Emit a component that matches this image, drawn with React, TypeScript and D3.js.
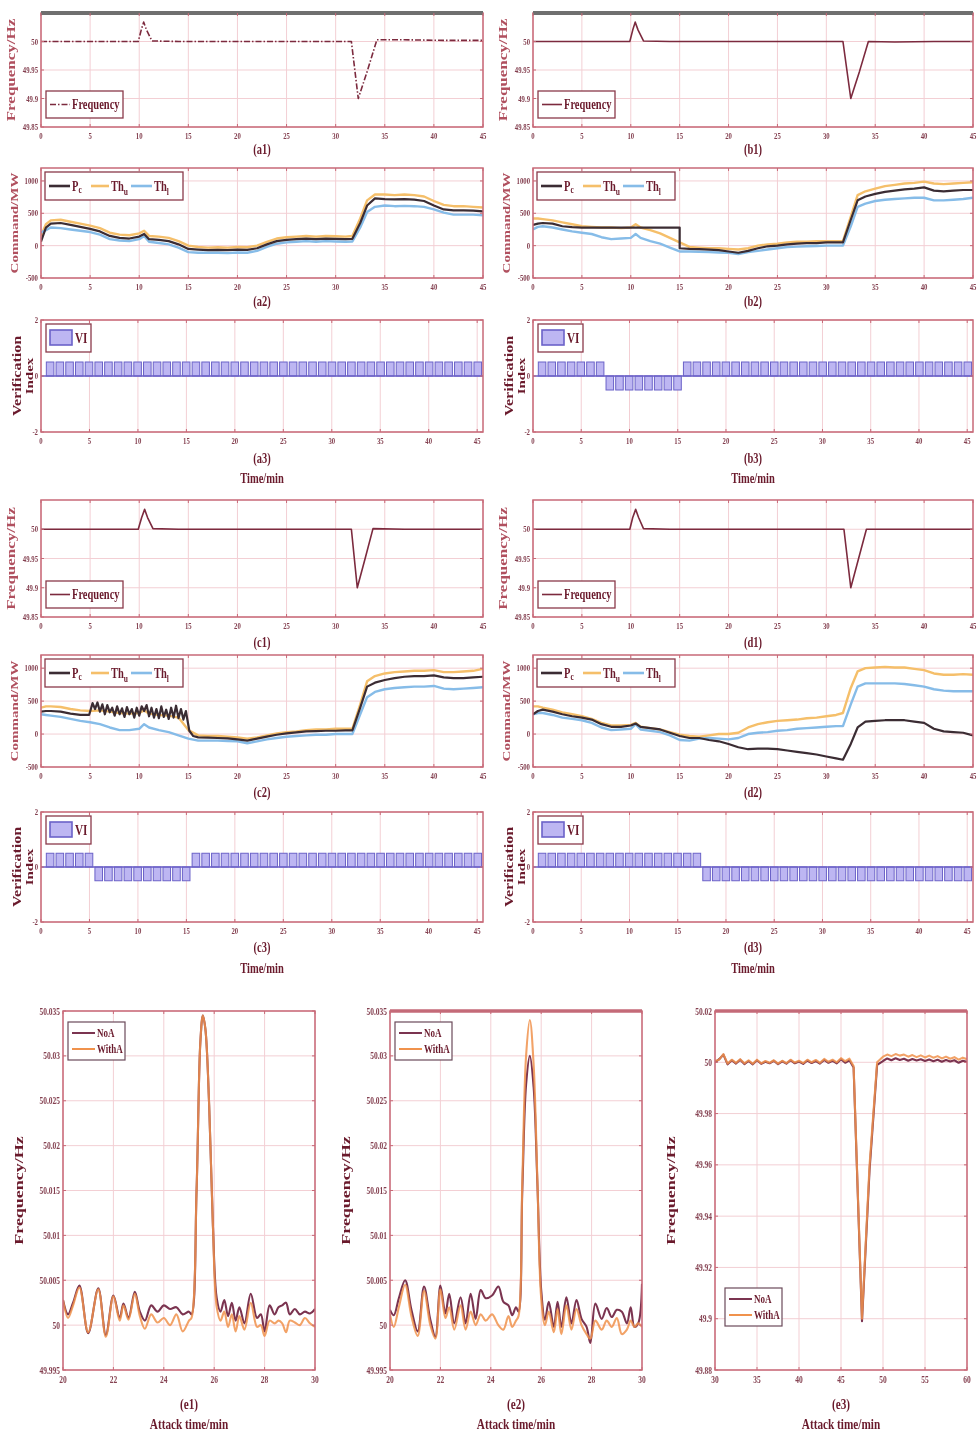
import React from "react";
import * as d3 from "d3";

const W = 979;
const H = 1437;

const INK = "#6a1a2c";
const SOFT_INK = "#b0505f";
const TICK_INK = "#844050";
const FRAME = "#c76a78";
const GRID = "#f3cfd4";
const FREQ_COL = "#7c2a3e";
const PC_COL = "#3b2c33";
const THU_COL = "#f5bf6a";
const THL_COL = "#86bce8";
const VI_FILL = "#bdb6f2";
const VI_EDGE = "#6b62c8";
const NOA_COL = "#7b3450";
const WITHA_COL = "#f0924c";
const FONT = "'Liberation Serif', 'DejaVu Serif', serif";
const SQ = 0.75; // the figure is squeezed horizontally

// ---------- ticks ----------
const MIN_TICKS = [0, 5, 10, 15, 20, 25, 30, 35, 40, 45];
const FREQ_TICKS = [49.85, 49.9, 49.95, 50];
const CMD_TICKS = [-500, 0, 500, 1000];
const VI_TICKS = [-2, 0, 2];
const E12_XTICKS = [20, 22, 24, 26, 28, 30];
const E12_YTICKS = [49.995, 50, 50.005, 50.01, 50.015, 50.02, 50.025, 50.03, 50.035];
const E3_XTICKS = [30, 35, 40, 45, 50, 55, 60];
const E3_YTICKS = [49.88, 49.9, 49.92, 49.94, 49.96, 49.98, 50, 50.02];

// ---------- frequency (a1, b1, c1, d1) ----------
const FREQ_A_T = [0, 4, 8, 9.9, 10.2, 10.45, 10.75, 11.3, 14, 18, 22, 26, 30, 31.6, 32.3, 33.2, 34.2, 37, 41, 45];
const FREQ_A = [50, 50, 50, 50, 50.02, 50.034, 50.02, 50.001, 50, 50, 50, 50, 50, 50, 49.9, 49.947, 50.003, 50.003, 50.002, 50.002];
const FREQ_B_T = [0, 4, 8, 9.9, 10.2, 10.45, 10.75, 11.3, 14, 18, 22, 26, 30, 31.7, 32.5, 33.4, 34.3, 37, 41, 45];
const FREQ_B = [50, 50, 50, 50, 50.02, 50.034, 50.02, 50.001, 50, 50, 50, 50, 50, 50, 49.9, 49.948, 50, 49.999, 50, 50];
const FREQ_C_T = [0, 4, 8, 9.9, 10.25, 10.55, 10.85, 11.4, 14, 18, 22, 26, 30, 31.6, 32.2, 33.0, 33.8, 37, 41, 45];
const FREQ_C = [50, 50, 50, 50, 50.02, 50.034, 50.02, 50.001, 50, 50, 50, 50, 50, 50, 49.9, 49.95, 50.001, 50, 50, 50];
const FREQ_D_T = [0, 4, 8, 9.9, 10.2, 10.5, 10.8, 11.3, 14, 18, 22, 26, 30, 31.8, 32.5, 33.3, 34.1, 37, 41, 45];
const FREQ_D = [50, 50, 50, 50, 50.02, 50.034, 50.02, 50.001, 50, 50, 50, 50, 50, 50, 49.9, 49.95, 50, 50, 50, 50];

// ---------- command (a2, b2, c2, d2) ----------
const T_CMD = [0, 0.5, 1, 2, 3, 4, 5, 6, 7, 8, 9, 10, 10.5, 11, 12, 13, 14, 15, 16, 17, 18, 19, 20, 21, 22, 23, 24,
  25, 26, 27, 28, 29, 30, 31, 31.7, 32.5, 33.2, 34, 35, 36, 37, 38, 39, 40, 41, 42, 43, 44, 45];

const PC_A2 = [60, 280, 340, 350, 320, 290, 260, 220, 150, 120, 110, 140, 180, 100, 90, 70, 20, -50, -60, -70, -65, -70,
  -60, -65, -40, 20, 70, 90, 100, 110, 100, 110, 105, 100, 105, 350, 620, 730, 720, 715, 720, 710, 690, 620, 560, 545,
  545, 540, 530];
const THU_A2 = [150, 330, 390, 400, 370, 340, 310, 270, 200, 170, 160, 190, 230, 150, 140, 120, 70, 0, -20, -30, -25,
  -30, -20, -25, 0, 60, 110, 130, 140, 150, 140, 150, 145, 140, 150, 420, 700, 790, 790, 780, 790, 780, 760, 690, 630,
  610, 610, 600, 590];
const THL_A2 = [200, 240, 280, 270, 250, 230, 210, 170, 100, 80, 70, 100, 150, 60, 40, 20, -30, -100, -110, -110, -110,
  -115, -105, -110, -80, -20, 30, 50, 60, 70, 60, 70, 65, 60, 65, 280, 520, 600, 620, 610, 615, 610, 600, 560, 510,
  480, 480, 480, 470];

const T_B2_PC = [0, 0.5, 1, 2, 3, 4, 5, 6, 7, 8, 9, 10, 11, 12, 13, 14, 15, 15, 16, 17, 18, 19, 20, 21, 22, 23, 24, 25,
  26, 27, 28, 29, 30, 31, 31.7, 32.5, 33.2, 34, 35, 36, 37, 38, 39, 40, 41, 42, 43, 44, 45];
const PC_B2 = [320, 340, 350, 340, 300, 285, 280, 280, 280, 280, 280, 280, 280, 280, 280, 280, 280, -40, -50, -55, -60,
  -70, -90, -110, -80, -40, -10, 0, 20, 30, 40, 40, 50, 50, 50, 400, 700, 760, 800, 830, 850, 870, 880, 900, 850, 840,
  850, 860, 860];
const THU_B2 = [420, 420, 410, 390, 360, 330, 300, 290, 280, 280, 270, 280, 330, 280, 240, 190, 120, 50, -20, -30, -40,
  -40, -50, -60, -40, 0, 20, 30, 50, 60, 60, 70, 70, 70, 70, 450, 780, 840, 880, 920, 940, 960, 970, 990, 960, 950,
  960, 970, 980];
const THL_B2 = [250, 290, 300, 280, 250, 220, 200, 180, 130, 100, 110, 120, 180, 120, 70, 30, -30, -90, -90, -95, -100,
  -105, -110, -130, -100, -80, -60, -40, -20, -15, -10, -5, 0, 0, 0, 300, 600, 650, 690, 710, 720, 730, 740, 740, 700,
  700, 710, 720, 740];

const T_C2_PC = [0, 0.5, 1, 2, 3, 4, 4.9, 5.25, 5.5, 5.75, 6, 6.25, 6.5, 6.75, 7, 7.25, 7.5, 7.75, 8, 8.25, 8.5, 8.75,
  9, 9.25, 9.5, 9.75, 10, 10.25, 10.5, 10.75, 11, 11.25, 11.5, 11.75, 12, 12.25, 12.5, 12.75, 13, 13.25, 13.5, 13.75,
  14, 14.25, 14.5, 14.75, 15.1, 15.5, 16, 17, 18, 19, 20, 21, 22, 23, 24, 25, 26, 27, 28, 29, 30, 31, 31.7, 32.5, 33.2,
  34, 35, 36, 37, 38, 39, 40, 41, 42, 43, 44, 45];
const PC_C2 = [340, 350, 350, 340, 310, 290, 290,
  470, 380, 480, 340, 450, 300, 440, 330, 400, 280,
  420, 300, 390, 260, 410, 300, 380, 250, 400, 280,
  420, 350, 440, 270, 400, 250, 380, 240, 420, 260,
  370, 230, 400, 250, 430, 240, 380, 220, 350,
  50, -30, -50, -55, -60, -65, -80, -100, -70, -40, -10, 10, 25, 40, 45, 50, 50, 55,
  55, 400, 720, 780, 820, 850, 870, 880, 880, 890, 860, 850, 850, 860, 870];
const THU_C2 = [400, 420, 420, 410, 380, 360, 350, 360, 340, 320, 310, 320, 360, 310, 290, 280, 250, 60, -20, -30, -30,
  -40, -50, -70, -50, -20, 10, 30, 40, 60, 70, 70, 80, 80, 80, 450, 800, 880, 920, 940, 950, 960, 960, 970, 940, 940,
  950, 960, 990];
const THL_C2 = [300, 290, 280, 260, 230, 200, 180, 150, 100, 60, 60, 80, 150, 100, 60, 30, -20, -70, -100, -100, -100,
  -105, -110, -140, -110, -80, -60, -40, -30, -20, -10, -10, 0, 0, 0, 300, 560, 640, 680, 700, 710, 720, 720, 730, 690,
  680, 690, 700, 710];

const PC_D2 = [300, 350, 370, 340, 300, 270, 250, 220, 150, 110, 110, 130, 160, 110, 90, 70, 20, -30, -60, -60, -90,
  -110, -150, -200, -230, -220, -220, -230, -250, -270, -290, -310, -340, -370, -390, -150, 100, 190, 200, 210, 210,
  210, 190, 170, 80, 40, 30, 20, -20];
const THU_D2 = [420, 420, 400, 370, 330, 300, 270, 230, 170, 130, 130, 140, 170, 110, 90, 70, 30, -10, -30, -40, -20, 0,
  0, 20, 100, 150, 180, 200, 210, 220, 240, 250, 270, 290, 320, 700, 950, 1000, 1010, 1020, 1010, 1010, 990, 970, 920,
  900, 900, 910, 900];
const THL_D2 = [300, 320, 320, 290, 250, 230, 210, 170, 100, 60, 70, 80, 150, 70, 50, 30, -20, -90, -100, -70, -60, -70,
  -80, -60, 0, 20, 30, 50, 60, 80, 90, 100, 110, 120, 120, 450, 720, 770, 770, 770, 770, 760, 740, 720, 680, 660, 650,
  650, 650];

// ---------- verification index (a3, b3, c3, d3), one bar per minute ----------
const VI_A = [
  0.5, 0.5, 0.5, 0.5, 0.5, 0.5, 0.5, 0.5, 0.5, 0.5, 0.5, 0.5, 0.5, 0.5, 0.5,
  0.5, 0.5, 0.5, 0.5, 0.5, 0.5, 0.5, 0.5, 0.5, 0.5, 0.5, 0.5, 0.5, 0.5, 0.5,
  0.5, 0.5, 0.5, 0.5, 0.5, 0.5, 0.5, 0.5, 0.5, 0.5, 0.5, 0.5, 0.5, 0.5, 0.5];
const VI_B = [
  0.5, 0.5, 0.5, 0.5, 0.5, 0.5, 0.5, -0.5, -0.5, -0.5, -0.5, -0.5, -0.5, -0.5, -0.5,
  0.5, 0.5, 0.5, 0.5, 0.5, 0.5, 0.5, 0.5, 0.5, 0.5, 0.5, 0.5, 0.5, 0.5, 0.5,
  0.5, 0.5, 0.5, 0.5, 0.5, 0.5, 0.5, 0.5, 0.5, 0.5, 0.5, 0.5, 0.5, 0.5, 0.5];
const VI_C = [
  0.5, 0.5, 0.5, 0.5, 0.5, -0.5, -0.5, -0.5, -0.5, -0.5, -0.5, -0.5, -0.5, -0.5, -0.5,
  0.5, 0.5, 0.5, 0.5, 0.5, 0.5, 0.5, 0.5, 0.5, 0.5, 0.5, 0.5, 0.5, 0.5, 0.5,
  0.5, 0.5, 0.5, 0.5, 0.5, 0.5, 0.5, 0.5, 0.5, 0.5, 0.5, 0.5, 0.5, 0.5, 0.5];
const VI_D = [
  0.5, 0.5, 0.5, 0.5, 0.5, 0.5, 0.5, 0.5, 0.5, 0.5, 0.5, 0.5, 0.5, 0.5, 0.5,
  0.5, 0.5, -0.5, -0.5, -0.5, -0.5, -0.5, -0.5, -0.5, -0.5, -0.5, -0.5, -0.5, -0.5, -0.5,
  -0.5, -0.5, -0.5, -0.5, -0.5, -0.5, -0.5, -0.5, -0.5, -0.5, -0.5, -0.5, -0.5, -0.5, -0.5];

// ---------- attack time panels (e1, e2, e3) ----------
const E1_T = [20.0, 20.2, 20.4, 20.65, 21.0, 21.4, 21.7, 22.0, 22.25, 22.4, 22.6, 22.85, 23.05, 23.25, 23.5, 23.75, 24.0,
  24.25, 24.5, 24.75, 25.0, 25.1, 25.3, 25.45, 25.55, 25.65, 25.8, 25.95, 26.1, 26.25, 26.4, 26.55, 26.7, 26.85, 27.0,
  27.2, 27.45, 27.7, 27.85, 28.0, 28.2, 28.4, 28.55, 28.7, 28.85, 29.0, 29.2, 29.4, 29.6, 29.8, 30.0];
const E1_NOA = [50.0028, 50.0012, 50.0025, 50.0044, 49.9991, 50.0041, 49.9989, 50.0033, 50.0008, 50.0024, 50.0008,
  50.0037, 50.0015, 50.0005, 50.0022, 50.0015, 50.0022, 50.0018, 50.002, 50.0012, 50.0015, 50.0012, 50.015, 50.0315,
  50.0345, 50.033, 50.0245, 50.011, 50.003, 50.0015, 50.0028, 50.001, 50.0025, 50.0005, 50.002, 50.0002, 50.0035,
  50.0008, 50.0012, 49.9993, 50.0022, 50.0012, 50.002, 50.0022, 50.0025, 50.0012, 50.0018, 50.0012, 50.0015, 50.0013,
  50.0018];
const E1_WITHA = [50.0028, 50.0008, 50.0022, 50.0042, 49.9992, 50.004, 49.9987, 50.0032, 50.0005, 50.0022, 50.0006,
  50.0035, 50.001, 49.9996, 50.0012, 50.0003, 50.0008, 50.0, 50.0012, 49.9993, 50.0005, 50.0008, 50.015, 50.0315,
  50.0345, 50.033, 50.0245, 50.011, 50.002, 50.0005, 50.0015, 49.9998, 50.0012, 49.9993, 50.001, 49.9995, 50.0025,
  49.9998, 50.0, 49.9988, 50.0005, 50.0002, 50.0005, 50.0002, 49.9992, 50.0005, 50.0003, 50.0, 50.0008, 50.0002,
  49.9998];

const E2_T = [20.0, 20.15, 20.35, 20.6, 20.85, 21.1, 21.35, 21.6, 21.8, 22.0, 22.2, 22.35, 22.55, 22.8, 23.0, 23.2,
  23.4, 23.6, 23.8, 24.05, 24.3, 24.5, 24.7, 24.85, 25.0, 25.1, 25.25, 25.4, 25.55, 25.7, 25.85, 26.0, 26.15, 26.3,
  26.5, 26.65, 26.8, 27.0, 27.2, 27.4, 27.6, 27.8, 27.95, 28.15, 28.4, 28.6, 28.8, 29.0, 29.2, 29.4, 29.55, 29.7,
  29.85, 30.0];
const E2_NOA = [50.0017, 50.0011, 50.003, 50.005, 50.0017, 49.9993, 50.0043, 50.0006, 49.9987, 50.0044, 50.0013,
  50.0035, 50.0002, 50.0031, 50.0002, 50.0035, 50.0007, 50.0039, 50.003, 50.0033, 50.0043, 50.0026, 50.0022, 50.0011,
  50.002, 50.0015, 50.015, 50.0268, 50.03, 50.0265, 50.0157, 50.0039, 50.0006, 50.0026, 49.9998, 50.0026, 49.9998,
  50.0031, 50.0002, 50.0028, 50.0007, 49.9998, 49.998, 50.0024, 50.0007, 50.0019, 50.0009, 50.0017, 50.0015, 50.0002,
  50.002, 49.9998, 50.0002, 50.0046];
const E2_WITHA = [50.0012, 49.9998, 50.002, 50.0045, 50.001, 49.9988, 50.0038, 50.0, 49.9985, 50.004, 50.0008, 50.002,
  49.9995, 50.0022, 49.9995, 50.0015, 50.0, 50.0012, 50.0005, 50.0012, 50.0, 49.9995, 50.001, 49.9998, 50.0005, 50.001,
  50.016, 50.03, 50.034, 50.029, 50.016, 50.003, 50.0, 50.0015, 49.9992, 50.0018, 49.999, 50.0022, 49.9995, 50.0018,
  50.0, 49.999, 49.9985, 50.0005, 49.9995, 50.0005, 49.9998, 50.0008, 49.999, 49.9995, 50.0005, 49.9998, 50.0002,
  49.9998];

const E3_T = [30, 30.5, 31, 31.5, 32, 32.5, 33, 33.5, 34, 34.5, 35, 35.5, 36, 36.5, 37, 37.5, 38, 38.5, 39, 39.5, 40,
  40.5, 41, 41.5, 42, 42.5, 43, 43.5, 44, 44.5, 45, 45.5, 46, 46.5, 47.5, 48.4, 49.3, 50, 50.5, 51, 51.5, 52, 52.5, 53,
  53.5, 54, 54.5, 55, 55.5, 56, 56.5, 57, 57.5, 58, 58.5, 59, 59.5, 60];
const E3_NOA = [50.0, 50.0012, 50.003, 49.9992, 50.0008, 49.9995, 50.001, 49.9993, 50.0005, 49.9992, 50.0008, 49.9994,
  50.0002, 49.9996, 50.0006, 49.9993, 50.0004, 49.9995, 50.0008, 49.9996, 50.0003, 49.9994, 50.0007, 49.9997, 50.0005,
  49.9995, 50.0009, 49.9998, 50.0006, 49.9996, 50.0012, 49.9998, 50.0008,
  49.998, 49.899, 49.958, 49.999,
  50.0005, 50.0015, 50.0008, 50.0016, 50.0009, 50.0014, 50.0006, 50.0013, 50.0007, 50.0012, 50.0005, 50.0011, 50.0004,
  50.001, 50.0002, 50.0009, 50.0003, 50.0008, 49.9998, 50.0006, 50.0002];
const E3_WITHA = [50.0005, 50.001, 50.0032, 49.9995, 50.001, 49.9998, 50.0012, 49.9996, 50.0008, 49.9994, 50.001,
  49.9996, 50.0005, 49.9998, 50.0008, 49.9995, 50.0006, 49.9997, 50.001, 49.9999, 50.0006, 49.9997, 50.001, 50.0,
  50.0009, 49.9998, 50.0013, 50.0002, 50.001, 50.0, 50.0016, 50.0004, 50.0014,
  49.9985, 49.9, 49.96, 50.0,
  50.0022, 50.003, 50.0024, 50.0032, 50.0026, 50.003, 50.0022, 50.0028, 50.002, 50.0027, 50.0019, 50.0026, 50.0018,
  50.0024, 50.0015, 50.0022, 50.0014, 50.002, 50.001, 50.0018, 50.0012];

// ---------- helpers ----------
type Series = { t: number[]; v: number[]; color: string; width: number; dash?: string; smooth?: boolean; opacity?: number };

function Txt({ x, y, size, children, anchor = "middle", rotate = 0, weight = 700, fill = INK }: {
  x: number; y: number; size: number; children: React.ReactNode; anchor?: string; rotate?: number; weight?: number; fill?: string;
}) {
  return (
    <g transform={`translate(${x},${y}) scale(${SQ},1)`}>
      <text
        transform={rotate ? `rotate(${rotate})` : undefined}
        dy={rotate ? "0.35em" : undefined}
        fontSize={size}
        fontWeight={weight}
        textAnchor={anchor as any}
        fill={fill}
      >
        {children}
      </text>
    </g>
  );
}

interface PanelProps {
  id: string;
  box: [number, number, number, number]; // left, top, right, bottom
  xDomain: [number, number];
  yDomain: [number, number];
  xTicks: number[];
  yTicks: number[];
  yFmt: (v: number) => string;
  series?: Series[];
  vi?: number[];
  top?: { color: string; width: number };
  tickSize?: number;
  children?: React.ReactNode;
}

function Panel({ id, box, xDomain, yDomain, xTicks, yTicks, yFmt, series = [], vi, top, tickSize = 9, children }: PanelProps) {
  const [L, T, R, B] = box;
  const x = d3.scaleLinear().domain(xDomain).range([L, R]);
  const y = d3.scaleLinear().domain(yDomain).range([B, T]);

  const pathOf = (s: Series) =>
    d3.line<number>()
      .x((_, i) => x(s.t[i]))
      .y(d => y(d))
      .curve(s.smooth ? d3.curveCatmullRom.alpha(0.5) : d3.curveLinear)(s.v) || "";

  let bars: React.ReactNode = null;
  if (vi) {
    const band = d3.scaleBand<number>()
      .domain(d3.range(1, vi.length + 1))
      .range([x(0.55), x(45.45)])
      .paddingInner(0.22);
    bars = (
      <g>
        {vi.map((v, i) => (
          <rect
            key={i}
            x={band(i + 1)}
            width={band.bandwidth()}
            y={Math.min(y(v), y(0))}
            height={Math.abs(y(v) - y(0))}
            fill={VI_FILL}
            stroke={VI_EDGE}
            strokeWidth={1}
          />
        ))}
        <line x1={L} x2={R} y1={y(0)} y2={y(0)} stroke={VI_EDGE} strokeWidth={1.6} />
      </g>
    );
  }

  return (
    <g>
      <defs>
        <clipPath id={`clip-${id}`}>
          <rect x={L} y={T} width={R - L} height={B - T} />
        </clipPath>
      </defs>
      <rect x={L} y={T} width={R - L} height={B - T} fill="#fff" />
      {xTicks.map(t => (
        <line key={`gx${t}`} x1={x(t)} x2={x(t)} y1={T} y2={B} stroke={GRID} strokeWidth={1} />
      ))}
      {yTicks.map(t => (
        <line key={`gy${t}`} x1={L} x2={R} y1={y(t)} y2={y(t)} stroke={GRID} strokeWidth={1} />
      ))}
      <g clipPath={`url(#clip-${id})`}>
        {bars}
        {series.map((s, i) => (
          <path
            key={i}
            d={pathOf(s)}
            fill="none"
            stroke={s.color}
            strokeWidth={s.width}
            strokeDasharray={s.dash}
            strokeOpacity={s.opacity ?? 1}
            strokeLinejoin="round"
          />
        ))}
      </g>
      <rect x={L} y={T} width={R - L} height={B - T} fill="none" stroke={FRAME} strokeWidth={1.5} />
      {top && <line x1={L} x2={R} y1={T} y2={T} stroke={top.color} strokeWidth={top.width} />}
      {xTicks.map(t => (
        <g key={`tx${t}`}>
          <line x1={x(t)} x2={x(t)} y1={B} y2={B - 3} stroke={FRAME} />
          <line x1={x(t)} x2={x(t)} y1={T} y2={T + 3} stroke={FRAME} />
          <Txt x={x(t)} y={B + tickSize + 3} size={tickSize} fill={TICK_INK}>{t}</Txt>
        </g>
      ))}
      {yTicks.map(t => (
        <g key={`ty${t}`}>
          <line x1={L} x2={L + 3} y1={y(t)} y2={y(t)} stroke={FRAME} />
          <line x1={R} x2={R - 3} y1={y(t)} y2={y(t)} stroke={FRAME} />
          <Txt x={L - 3} y={y(t) + tickSize * 0.35} size={tickSize} anchor="end" fill={TICK_INK}>{yFmt(t)}</Txt>
        </g>
      ))}
      {children}
    </g>
  );
}

const fmtTrim = (d: number) => (v: number) => String(+v.toFixed(d));

function FreqPanel({ id, L, R, T, B, t, v, dashed, top }: {
  id: string; L: number; R: number; T: number; B: number; t: number[]; v: number[]; dashed?: boolean; top?: boolean;
}) {
  const dash = dashed ? "6,2,1.5,2" : undefined;
  return (
    <Panel
      id={id}
      box={[L, T, R, B]}
      xDomain={[0, 45]}
      yDomain={[49.85, 50.05]}
      xTicks={MIN_TICKS}
      yTicks={FREQ_TICKS}
      yFmt={fmtTrim(2)}
      series={[{ t, v, color: FREQ_COL, width: 1.6, dash }]}
      top={top ? { color: "#6f6f6f", width: 4 } : undefined}
    >
      <Txt x={L - 30} y={(T + B) / 2} size={17} rotate={-90} fill={SOFT_INK}>Frequency/Hz</Txt>
      <g>
        <rect x={L + 5} y={B - 36} width={77} height={27} fill="#fff" stroke="#8a3a4a" strokeWidth={1.3} />
        <line x1={L + 9} x2={L + 29} y1={B - 22.5} y2={B - 22.5} stroke={FREQ_COL} strokeWidth={1.6} strokeDasharray={dash} />
        <Txt x={L + 31} y={B - 18} size={14} anchor="start">Frequency</Txt>
      </g>
    </Panel>
  );
}

function CmdPanel({ id, L, R, T, B, pcT, pc, thu, thl }: {
  id: string; L: number; R: number; T: number; B: number; pcT: number[]; pc: number[]; thu: number[]; thl: number[];
}) {
  const lx = L + 4;
  const ly = T + 4;
  const cy = ly + 14;
  return (
    <Panel
      id={id}
      box={[L, T, R, B]}
      xDomain={[0, 45]}
      yDomain={[-500, 1200]}
      xTicks={MIN_TICKS}
      yTicks={CMD_TICKS}
      yFmt={v => String(v)}
      series={[
        { t: T_CMD, v: thu, color: THU_COL, width: 2.4 },
        { t: T_CMD, v: thl, color: THL_COL, width: 2.4 },
        { t: pcT, v: pc, color: PC_COL, width: 2.2 },
      ]}
    >
      <Txt x={L - 27} y={(T + B) / 2} size={15} rotate={-90} fill={SOFT_INK}>Command/MW</Txt>
      <g>
        <rect x={lx} y={ly} width={138} height={28} fill="#fff" stroke="#8a3a4a" strokeWidth={1.3} />
        <line x1={lx + 4} x2={lx + 25} y1={cy} y2={cy} stroke={PC_COL} strokeWidth={2.6} />
        <Txt x={lx + 27} y={cy + 5} size={14} anchor="start">
          <tspan>P</tspan><tspan fontSize={10} dy={2}>c</tspan>
        </Txt>
        <line x1={lx + 46} x2={lx + 64} y1={cy} y2={cy} stroke={THU_COL} strokeWidth={2.6} />
        <Txt x={lx + 66} y={cy + 5} size={14} anchor="start">
          <tspan>Th</tspan><tspan fontSize={10} dy={4}>u</tspan>
        </Txt>
        <line x1={lx + 86} x2={lx + 107} y1={cy} y2={cy} stroke={THL_COL} strokeWidth={2.6} />
        <Txt x={lx + 109} y={cy + 5} size={14} anchor="start">
          <tspan>Th</tspan><tspan fontSize={10} dy={4}>l</tspan>
        </Txt>
      </g>
    </Panel>
  );
}

function ViPanel({ id, L, R, T, B, vi }: { id: string; L: number; R: number; T: number; B: number; vi: number[] }) {
  const lx = L + 5;
  const ly = T + 4;
  return (
    <Panel
      id={id}
      box={[L, T, R, B]}
      xDomain={[0, 45.6]}
      yDomain={[-2, 2]}
      xTicks={MIN_TICKS}
      yTicks={VI_TICKS}
      yFmt={v => String(v)}
      vi={vi}
    >
      <Txt x={L - 24} y={(T + B) / 2} size={16} rotate={-90}>Verification</Txt>
      <Txt x={L - 12} y={(T + B) / 2} size={15} rotate={-90}>Index</Txt>
      <g>
        <rect x={lx} y={ly} width={45} height={28} fill="#fff" stroke="#8a3a4a" strokeWidth={1.3} />
        <rect x={lx + 4} y={ly + 6} width={22} height={15} fill={VI_FILL} stroke={VI_EDGE} strokeWidth={1.6} />
        <Txt x={lx + 29} y={ly + 19} size={15} anchor="start">VI</Txt>
      </g>
    </Panel>
  );
}

function AttackPanel({ id, L, R, T, B, t, noa, witha, xDomain, xTicks, yDomain, yTicks, digits, legend, top }: {
  id: string; L: number; R: number; T: number; B: number; t: number[]; noa: number[]; witha: number[];
  xDomain: [number, number]; xTicks: number[]; yDomain: [number, number]; yTicks: number[]; digits: number;
  legend: [number, number]; top?: boolean;
}) {
  const [lx, ly] = legend;
  const smooth = digits === 3;
  return (
    <Panel
      id={id}
      box={[L, T, R, B]}
      xDomain={xDomain}
      yDomain={yDomain}
      xTicks={xTicks}
      yTicks={yTicks}
      yFmt={fmtTrim(digits)}
      tickSize={10}
      top={top ? { color: "#c46a78", width: 3.5 } : undefined}
      series={[
        { t, v: noa, color: NOA_COL, width: 2.1, smooth },
        { t, v: witha, color: WITHA_COL, width: 2.1, smooth, opacity: 0.85 },
      ]}
    >
      <Txt x={L - 45} y={(T + B) / 2} size={18} rotate={-90}>Frequency/Hz</Txt>
      <g>
        <rect x={lx} y={ly} width={57} height={38} fill="#fff" stroke="#6b4a5a" strokeWidth={1.2} />
        <line x1={lx + 4} x2={lx + 27} y1={ly + 11} y2={ly + 11} stroke={NOA_COL} strokeWidth={2} />
        <Txt x={lx + 29} y={ly + 15} size={12} anchor="start">NoA</Txt>
        <line x1={lx + 4} x2={lx + 27} y1={ly + 27} y2={ly + 27} stroke={WITHA_COL} strokeWidth={2} />
        <Txt x={lx + 29} y={ly + 31} size={12} anchor="start">WithA</Txt>
      </g>
    </Panel>
  );
}

// ---------- layout ----------
const COL_A = { L: 41, R: 483, cx: 262 };
const COL_B = { L: 533, R: 973, cx: 753 };
const TOP_ROWS = { f: [13, 127], c: [168, 278], v: [320, 432] };
const BOT_ROWS = { f: [500, 617], c: [655, 767], v: [812, 922] };
const E_T = 1011;
const E_B = 1370;

export default function App() {
  return (
    <div style={{ position: "absolute", left: 0, top: 0 }}>
      <svg
        width={W}
        height={H}
        viewBox={`0 0 ${W} ${H}`}
        fontFamily={FONT}
        style={{ display: "block", background: "#fff", filter: "blur(0.45px)" }}
      >
        <rect width={W} height={H} fill="#fff" />

        {/* (a) column, top block */}
        <FreqPanel id="a1" L={COL_A.L} R={COL_A.R} T={TOP_ROWS.f[0]} B={TOP_ROWS.f[1]} t={FREQ_A_T} v={FREQ_A} dashed top />
        <CmdPanel id="a2" L={COL_A.L} R={COL_A.R} T={TOP_ROWS.c[0]} B={TOP_ROWS.c[1]} pcT={T_CMD} pc={PC_A2} thu={THU_A2} thl={THL_A2} />
        <ViPanel id="a3" L={COL_A.L} R={COL_A.R} T={TOP_ROWS.v[0]} B={TOP_ROWS.v[1]} vi={VI_A} />
        <Txt x={COL_A.cx} y={TOP_ROWS.f[1] + 27} size={14}>(a1)</Txt>
        <Txt x={COL_A.cx} y={TOP_ROWS.c[1] + 28} size={14}>(a2)</Txt>
        <Txt x={COL_A.cx} y={TOP_ROWS.v[1] + 31} size={14}>(a3)</Txt>
        <Txt x={COL_A.cx} y={TOP_ROWS.v[1] + 51} size={14}>Time/min</Txt>

        {/* (b) column, top block */}
        <FreqPanel id="b1" L={COL_B.L} R={COL_B.R} T={TOP_ROWS.f[0]} B={TOP_ROWS.f[1]} t={FREQ_B_T} v={FREQ_B} top />
        <CmdPanel id="b2" L={COL_B.L} R={COL_B.R} T={TOP_ROWS.c[0]} B={TOP_ROWS.c[1]} pcT={T_B2_PC} pc={PC_B2} thu={THU_B2} thl={THL_B2} />
        <ViPanel id="b3" L={COL_B.L} R={COL_B.R} T={TOP_ROWS.v[0]} B={TOP_ROWS.v[1]} vi={VI_B} />
        <Txt x={COL_B.cx} y={TOP_ROWS.f[1] + 27} size={14}>(b1)</Txt>
        <Txt x={COL_B.cx} y={TOP_ROWS.c[1] + 28} size={14}>(b2)</Txt>
        <Txt x={COL_B.cx} y={TOP_ROWS.v[1] + 31} size={14}>(b3)</Txt>
        <Txt x={COL_B.cx} y={TOP_ROWS.v[1] + 51} size={14}>Time/min</Txt>

        {/* (c) column, middle block */}
        <FreqPanel id="c1" L={COL_A.L} R={COL_A.R} T={BOT_ROWS.f[0]} B={BOT_ROWS.f[1]} t={FREQ_C_T} v={FREQ_C} />
        <CmdPanel id="c2" L={COL_A.L} R={COL_A.R} T={BOT_ROWS.c[0]} B={BOT_ROWS.c[1]} pcT={T_C2_PC} pc={PC_C2} thu={THU_C2} thl={THL_C2} />
        <ViPanel id="c3" L={COL_A.L} R={COL_A.R} T={BOT_ROWS.v[0]} B={BOT_ROWS.v[1]} vi={VI_C} />
        <Txt x={COL_A.cx} y={BOT_ROWS.f[1] + 30} size={14}>(c1)</Txt>
        <Txt x={COL_A.cx} y={BOT_ROWS.c[1] + 30} size={14}>(c2)</Txt>
        <Txt x={COL_A.cx} y={BOT_ROWS.v[1] + 30} size={14}>(c3)</Txt>
        <Txt x={COL_A.cx} y={BOT_ROWS.v[1] + 51} size={14}>Time/min</Txt>

        {/* (d) column, middle block */}
        <FreqPanel id="d1" L={COL_B.L} R={COL_B.R} T={BOT_ROWS.f[0]} B={BOT_ROWS.f[1]} t={FREQ_D_T} v={FREQ_D} />
        <CmdPanel id="d2" L={COL_B.L} R={COL_B.R} T={BOT_ROWS.c[0]} B={BOT_ROWS.c[1]} pcT={T_CMD} pc={PC_D2} thu={THU_D2} thl={THL_D2} />
        <ViPanel id="d3" L={COL_B.L} R={COL_B.R} T={BOT_ROWS.v[0]} B={BOT_ROWS.v[1]} vi={VI_D} />
        <Txt x={COL_B.cx} y={BOT_ROWS.f[1] + 30} size={14}>(d1)</Txt>
        <Txt x={COL_B.cx} y={BOT_ROWS.c[1] + 30} size={14}>(d2)</Txt>
        <Txt x={COL_B.cx} y={BOT_ROWS.v[1] + 30} size={14}>(d3)</Txt>
        <Txt x={COL_B.cx} y={BOT_ROWS.v[1] + 51} size={14}>Time/min</Txt>

        {/* (e) row */}
        <AttackPanel id="e1" L={63} R={315} T={E_T} B={E_B} t={E1_T} noa={E1_NOA} witha={E1_WITHA}
          xDomain={[20, 30]} xTicks={E12_XTICKS} yDomain={[49.995, 50.035]} yTicks={E12_YTICKS} digits={3} legend={[68, 1022]} />
        <AttackPanel id="e2" L={390} R={642} T={E_T} B={E_B} t={E2_T} noa={E2_NOA} witha={E2_WITHA}
          xDomain={[20, 30]} xTicks={E12_XTICKS} yDomain={[49.995, 50.035]} yTicks={E12_YTICKS} digits={3} legend={[395, 1022]} top />
        <AttackPanel id="e3" L={715} R={967} T={E_T} B={E_B} t={E3_T} noa={E3_NOA} witha={E3_WITHA}
          xDomain={[30, 60]} xTicks={E3_XTICKS} yDomain={[49.88, 50.02]} yTicks={E3_YTICKS} digits={2} legend={[725, 1288]} top />
        <Txt x={189} y={1409} size={15}>(e1)</Txt>
        <Txt x={516} y={1409} size={15}>(e2)</Txt>
        <Txt x={841} y={1409} size={15}>(e3)</Txt>
        <Txt x={189} y={1429} size={15}>Attack time/min</Txt>
        <Txt x={516} y={1429} size={15}>Attack time/min</Txt>
        <Txt x={841} y={1429} size={15}>Attack time/min</Txt>
      </svg>
    </div>
  );
}
